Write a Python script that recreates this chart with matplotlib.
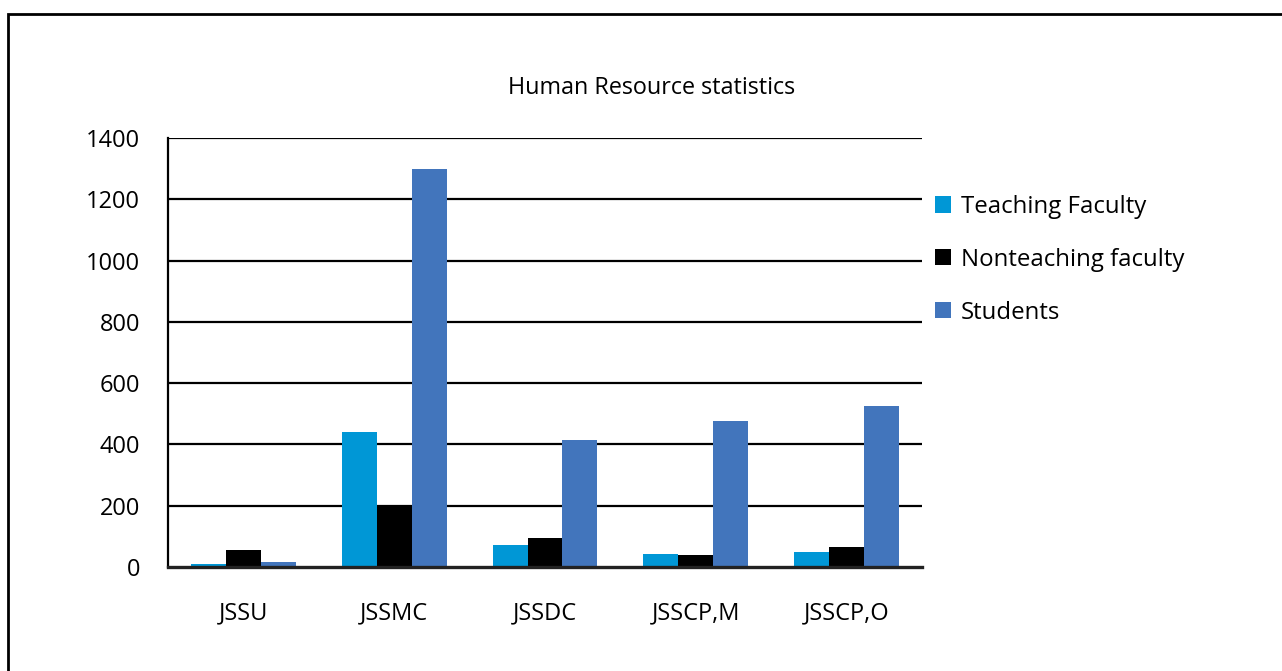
import matplotlib
matplotlib.use("Agg")
import numpy as np
from matplotlib import pyplot as plt
from matplotlib.patches import Rectangle

# data
colleges = ["JSSU", "JSSMC", "JSSDC", "JSSCP,M", "JSSCP,O"]
teaching = [10, 440, 72, 42, 49]
nonteaching = [55, 200, 95, 40, 65]
students = [16, 1300, 414, 477, 525]
series_names = ["Teaching Faculty", "Nonteaching faculty", "Students"]
y_ticks = [0, 200, 400, 600, 800, 1000, 1200, 1400]

colors = ["#0097d6", "#000000", "#4275bc"]

plt.rcParams["font.family"] = ["Open Sans", "DejaVu Sans"]

fig = plt.figure(figsize=(12.82, 6.71), dpi=100)
ax = fig.add_axes([168 / 1282, 1 - 567 / 671, (922 - 168) / 1282, (567 - 138) / 671])

# outer frame, right and bottom edges fall outside the picture
fig.patches.append(Rectangle((8 / 1282, -0.1), 1.2, 1 - 14 / 671 + 0.1,
                             transform=fig.transFigure, fill=False,
                             edgecolor="black", linewidth=2))

x = np.arange(len(colleges))
w = 0.232
for i, (vals, name) in enumerate(zip([teaching, nonteaching, students], series_names)):
    ax.bar(x + (i - 1) * w, vals, width=w, color=colors[i], label=name, zorder=3)

ax.set_xlim(-0.5, len(colleges) - 0.5)
ax.set_ylim(0, 1400)
ax.set_yticks(y_ticks)
ax.set_xticks(x)
ax.set_xticklabels(colleges)
ax.tick_params(axis="both", length=0)
ax.tick_params(axis="y", labelsize=17, pad=20)
ax.tick_params(axis="x", labelsize=17, pad=25)

for v in y_ticks[1:]:
    ax.axhline(v, color="black", linewidth=1.6, zorder=1)

for s in ["top", "right"]:
    ax.spines[s].set_visible(False)
ax.spines["left"].set_linewidth(1.6)
ax.spines["bottom"].set_linewidth(2.4)
ax.spines["bottom"].set_color("#222222")
ax.spines["bottom"].set_zorder(4)

fig.text(652 / 1282, 1 - 88 / 671, "Human Resource statistics",
         ha="center", va="center", fontsize=16.8)

fig.legend(loc="upper left", bbox_to_anchor=(935 / 1282, 1 - 195 / 671),
           frameon=False, fontsize=17.3, handlelength=0.66, handleheight=0.66,
           handletextpad=0.42, labelspacing=1.2, borderpad=0, borderaxespad=0)

fig.savefig("out.png", dpi=100)
